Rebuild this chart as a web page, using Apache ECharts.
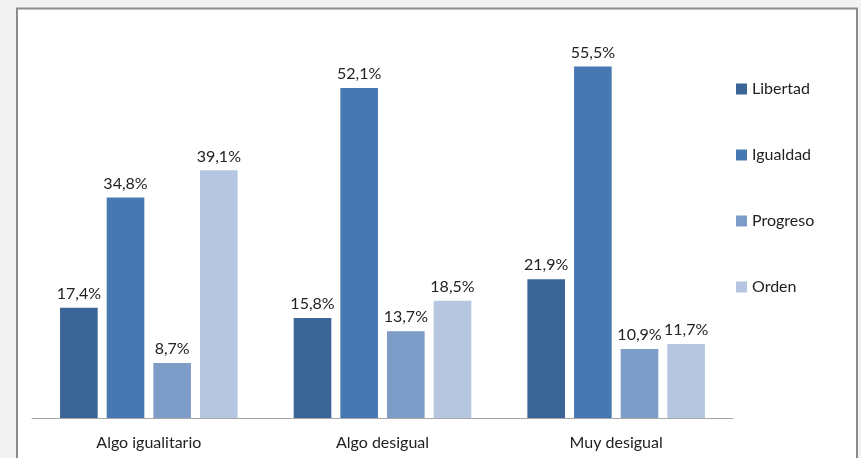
<!DOCTYPE html>
<html>
<head>
<meta charset="utf-8">
<script src="https://cdn.jsdelivr.net/npm/echarts@6/dist/echarts.min.js"></script>
<style>
html,body{margin:0;padding:0;background:#f2f2f2;}
#c{width:861px;height:458px;}
</style>
</head>
<body>
<div id="c"></div>
<script>
const categories = ['Algo igualitario', 'Algo desigual', 'Muy desigual'];
const seriesNames = ['Libertad', 'Igualdad', 'Progreso', 'Orden'];
const libertad = [17.4, 15.8, 21.9];
const igualdad = [34.8, 52.1, 55.5];
const progreso = [8.7, 13.7, 10.9];
const orden = [39.1, 18.5, 11.7];
const colors = ['#3b6596', '#4878b1', '#7e9cc8', '#b6c6e0'];
const values = [libertad, igualdad, progreso, orden];

const chart = echarts.init(document.getElementById('c'));
const font = 'Lato, "Open Sans", sans-serif';
chart.setOption({
  animation: false,
  backgroundColor: '#f2f2f2',
  graphic: [{
    type: 'rect',
    z: -10,
    shape: {x: 17, y: 8.5, width: 840, height: 470},
    style: {fill: '#ffffff', stroke: '#8c8c8c', lineWidth: 2}
  }],
  grid: {left: 32, right: 128, top: 38, bottom: 40},
  legend: {
    orient: 'vertical',
    left: 731,
    top: 76,
    itemWidth: 11,
    itemHeight: 11,
    itemGap: 50,
    icon: 'rect',
    textStyle: {fontFamily: font, fontSize: 16, color: '#222'},
    data: seriesNames
  },
  xAxis: {
    type: 'category',
    data: categories,
    axisLine: {lineStyle: {color: '#a6a6a6', width: 1}},
    axisTick: {show: false},
    axisLabel: {fontFamily: font, fontSize: 16, color: '#222', margin: 17}
  },
  yAxis: {
    type: 'value',
    min: 0,
    max: 60,
    show: false,
    splitLine: {show: false}
  },
  series: seriesNames.map((n, i) => ({
    name: n,
    type: 'bar',
    data: values[i],
    barGap: '24%',
    barCategoryGap: '24%',
    itemStyle: {color: colors[i]},
    label: {
      show: true,
      position: 'top',
      distance: 6,
      fontFamily: font,
      fontSize: 16,
      color: '#222',
      formatter: p => p.value.toFixed(1).replace('.', ',') + '%'
    }
  }))
});
</script>
</body>
</html>
